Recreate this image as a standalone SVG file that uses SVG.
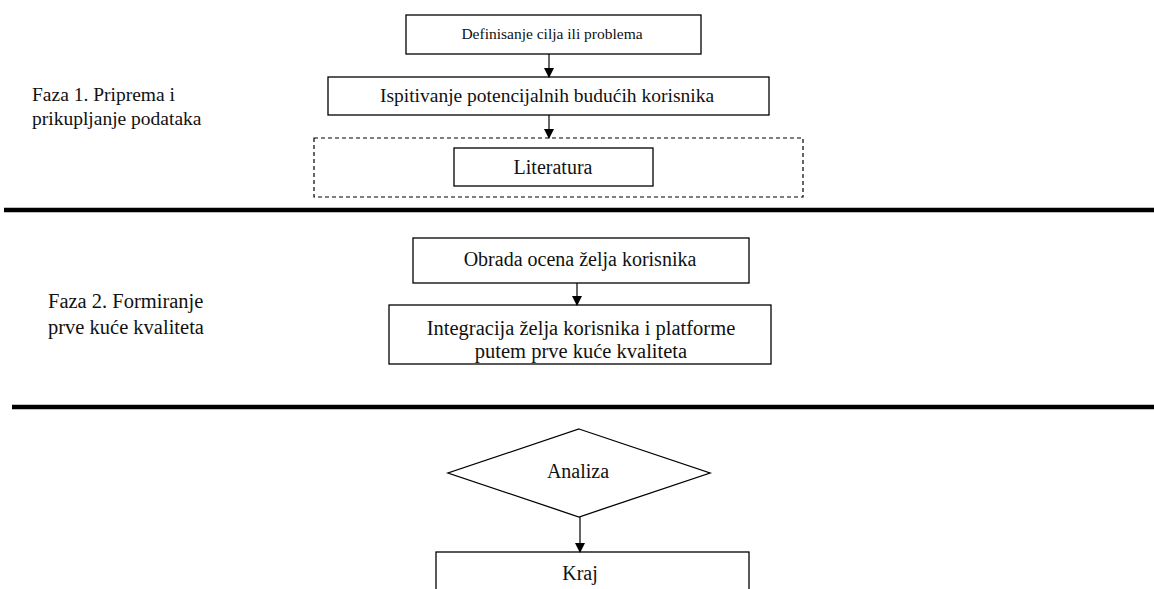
<svg xmlns="http://www.w3.org/2000/svg" width="1154" height="589" viewBox="0 0 1154 589">
<style>
.box{fill:#fff;stroke:#000;stroke-width:1.3}
text{font-family:'Liberation Serif','Times New Roman','DejaVu Serif',serif;fill:#111}
.t{text-anchor:middle;font-size:20px}
.lbl{font-size:19.5px}
.c{stroke:#000;stroke-width:1.2;fill:none}
.sep{stroke:#000;stroke-width:4.5}
</style>
<defs>
<marker id="ah" markerWidth="10" markerHeight="10" refX="9" refY="5" orient="auto" markerUnits="userSpaceOnUse">
<path d="M0,0 L10,5 L0,10 Z" fill="#000"/>
</marker>
</defs>
<rect width="1154" height="589" fill="#fff"/>
<g id="separators">
<line class="sep" x1="4" y1="210" x2="1154" y2="210"/>
<line class="sep" x1="12" y1="407" x2="1154" y2="407"/>
</g>
<g id="phase1-label">
<text class="lbl" x="32" y="101">Faza 1. Priprema i</text>
<text class="lbl" x="32" y="125">prikupljanje podataka</text>
</g>
<g id="phase2-label">
<text class="lbl" x="48" y="308" style="font-size:20.5px">Faza 2. Formiranje</text>
<text class="lbl" x="48" y="334" style="font-size:20.5px">prve kuće kvaliteta</text>
</g>
<g id="dashed-group">
<rect x="314" y="138" width="489" height="59" fill="none" stroke="#000" stroke-width="1.2" stroke-dasharray="4,3"/>
</g>
<g id="n1">
<rect class="box" x="406" y="15" width="295" height="39"/>
<text class="t" x="552" y="39" style="font-size:15.5px">Definisanje cilja ili problema</text>
</g>
<g id="n2">
<rect class="box" x="328" y="77" width="441" height="38"/>
<text class="t" x="547" y="102" style="font-size:19.5px">Ispitivanje potencijalnih budućih korisnika</text>
</g>
<g id="n3">
<rect class="box" x="454" y="148" width="199" height="38"/>
<text class="t" x="553" y="174">Literatura</text>
</g>
<g id="n4">
<rect class="box" x="413" y="238" width="336" height="45"/>
<text class="t" x="580" y="266">Obrada ocena želja korisnika</text>
</g>
<g id="n5">
<rect class="box" x="389" y="305" width="382" height="59"/>
<text class="t" x="581" y="335" style="font-size:20.5px">Integracija želja korisnika i platforme</text>
<text class="t" x="581" y="358" style="font-size:20.5px">putem prve kuće kvaliteta</text>
</g>
<g id="n6">
<polygon class="box" points="579,429 710,473 579,517 448,473"/>
<text class="t" x="578" y="478">Analiza</text>
</g>
<g id="n7">
<rect class="box" x="436" y="552" width="313" height="50"/>
<text class="t" x="580" y="580">Kraj</text>
</g>
<g id="connectors">
<line class="c" x1="549" y1="54" x2="549" y2="77" marker-end="url(#ah)"/>
<line class="c" x1="549" y1="115" x2="549" y2="138" marker-end="url(#ah)"/>
<line class="c" x1="577" y1="283" x2="577" y2="305" marker-end="url(#ah)"/>
<line class="c" x1="580" y1="517" x2="580" y2="552" marker-end="url(#ah)"/>
</g>
</svg>
